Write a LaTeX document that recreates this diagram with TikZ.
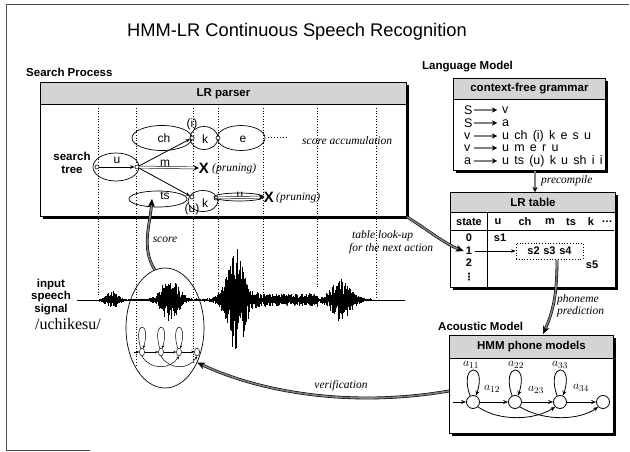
\documentclass[tikz,border=0pt]{standalone}
\usepackage{fontspec}
\setmainfont{Liberation Serif}
\setsansfont{Liberation Sans}
\newfontfamily\djv{DejaVu Sans}
\newfontfamily\gramf[WordSpace=1.5]{Liberation Sans}
\usetikzlibrary{arrows.meta,shapes.geometric,shadows,calc}
\tikzset{
  lbl/.style={font=\sffamily\bfseries\fontsize{11.5}{13}\selectfont, inner sep=0pt},
  ttl/.style={font=\sffamily\fontsize{18.3}{20}\selectfont, inner sep=0pt},
  ann/.style={font=\itshape\fontsize{11.5}{13}\selectfont, inner sep=0pt},
  tree/.style={font=\sffamily\fontsize{12}{13}\selectfont, inner sep=0pt},
  gram/.style={font=\gramf\fontsize{12.5}{13}\selectfont, inner sep=0pt, anchor=west},
  cell/.style={font=\sffamily\bfseries\fontsize{11}{12}\selectfont, inner sep=0pt},
  body/.style={draw, line width=0.9pt, fill=white, anchor=north west, inner sep=0pt,
     drop shadow={shadow xshift=2.5pt, shadow yshift=-2.5pt, opacity=1, fill=black}},
  head/.style={draw, line width=0.9pt, fill=black!17, anchor=north west, inner sep=0pt,
     font=\sffamily\bfseries\fontsize{11.5}{13}\selectfont},
  vdot/.style={dotted, line width=0.7pt},
  ell/.style={draw, ellipse, line width=0.7pt, inner sep=0pt},
  st/.style={draw, circle, minimum size=4pt, inner sep=0pt, line width=0.6pt, fill=white},
  thinarr/.style={line width=0.8pt, -{Stealth[length=4.5pt,width=3.5pt]}},
  hollow/.style={draw, line width=0.5pt, double=white, double distance=1.6pt, -{Stealth[length=5pt,width=5pt]}},
  bigarr/.style={draw=black, line width=0.6pt, double=black!50, double distance=1.6pt, -{Stealth[length=8pt,width=7pt]}},
  smallarr/.style={draw=black, line width=0.4pt, double=black!50, double distance=1.4pt, -{Stealth[length=5pt,width=5pt]}},
  wave/.style={line width=0.5pt},
  hst/.style={draw, circle, minimum size=13pt, inner sep=0pt, line width=0.8pt},
  mst/.style={draw, ellipse, minimum width=5pt, minimum height=8pt, inner sep=0pt, line width=0.5pt},
  harr/.style={line width=0.8pt, -{Stealth[length=5pt,width=4pt]}},
  marr/.style={line width=0.5pt, -{Stealth[length=3pt,width=2.5pt]}},
  alab/.style={font=\fontsize{12.5}{12.5}\selectfont, inner sep=0pt},
  declare function={gs(\xx,\cc,\ww)=exp(max(-9,-((\xx-\cc)/\ww)^2));},
}
\begin{document}
\begin{tikzpicture}[x=1pt,y=-1pt]
\useasboundingbox (0,0) rectangle (630,452);
% frame
\draw[line width=0.5pt, black!70] (629,4) -- (6,4) -- (6,450) -- (90,450);

% titles
\node[ttl] (title) at (297,32) {HMM-LR Continuous Speech Recognition};
\node[lbl, anchor=west] (sproc) at (26,72) {Search Process};
\node[lbl, anchor=west] (lmod) at (422,67) {Language Model};
\node[lbl, anchor=west] (amod) at (438,326) {Acoustic Model};

% ---------- LR parser box
\node[body, minimum width=366, minimum height=134] (lrp) at (40,82) {};
\node[head, minimum width=366, minimum height=22] (lrph) at (40,82) {LR parser};

% dotted time lines
\foreach \xa/\ya in {98/297,136/367,193/363,218/297,263/297,317/288,376/302}
  \draw[vdot] (\xa,108) -- (\xa,\ya);

% search tree
\node[lbl, align=center, font=\sffamily\bfseries\fontsize{11.5}{12.5}\selectfont] (stree) at (72,163) {search\\tree};
\node[ell, minimum width=46, minimum height=28] (ue) at (116,167) {};
\node[st] (uL) at (97,167) {};
\node[st] (uR) at (137,167) {};
\node[tree] (ulab) at (117,160) {u};
\draw[thinarr] (uL) -- (uR);

\node[ell, minimum width=60, minimum height=25] (che) at (162,138) {};
\node[tree] (chl) at (164,138) {ch};
\node[ell, minimum width=28, minimum height=23] (kte) at (204,138) {};
\node[tree] (ktl) at (205,139) {k};
\node[ell, minimum width=48, minimum height=25] (ee) at (241,138) {};
\node[tree] (eel) at (243,139) {e};
\node[st] (kL) at (192,138) {};
\node[st] (kR) at (218,138) {};
\node[tree] (il) at (192,124) {(i)};
\draw[dotted, line width=0.9pt] ($(ee.east)+(3,-1)$) -- ++(20,0);
\node[ann, anchor=west] (sacc) at (302,141) {score accumulation};

\node[font=\sffamily\bfseries\fontsize{15}{15}\selectfont, inner sep=0pt] (x1) at (204,168) {X};
\node[ann, anchor=west] (pr1) at (212,169) {(pruning)};
\node[tree] (ml) at (165,163) {m};

\node[ell, minimum width=58, minimum height=16] (tse) at (158,199) {};
\node[tree] (tsl) at (165,196) {ts};
\node[ell, minimum width=30, minimum height=21] (kbe) at (203,201) {};
\node[tree] (kbl) at (205,203) {k};
\node[st] (kbL) at (192,197) {};
\node[st] (kbR) at (216,198) {};
\node[tree] (ul2) at (192,209) {(u)};
\node[ell, minimum width=50, minimum height=8] (ube) at (239,197) {};
\node[tree] (ubl) at (240,195) {u};
\node[font=\sffamily\bfseries\fontsize{15}{15}\selectfont, inner sep=0pt] (x2) at (269,197) {X};
\node[ann, anchor=west] (pr2) at (276,198) {(pruning)};

\draw[thinarr] (uR) -- (kL);
\draw[thinarr] (uR) -- (kbL);
\draw[hollow] (uR) -- (x1.west);
\draw[hollow] (kbR) -- (x2.west);

% ---------- waveform
\node[lbl, align=center, font=\sffamily\bfseries\fontsize{11.5}{12.8}\selectfont] (insig) at (51,297) {input\\speech\\signal};
\node[font=\fontsize{16}{16}\selectfont, inner sep=0pt] (uchi) at (68,324) {/uchikesu/};
\coordinate (wstart) at (77,300);
\coordinate (wend) at (405,300);
\draw[line width=0.6pt] (wstart) -- (wend);
\pgfmathsetseed{11}
\foreach \x in {99,99.6,...,372} {
  \pgfmathsetmacro\env{1.5 + 9*gs(\x,112,7) + 21*gs(\x,170,11) + 50*gs(\x,236,12) + 5*and(\x>255,\x<318) + 20*gs(\x,341,13)}
  \pgfmathsetmacro\up{\env*(0.25+0.75*rnd)}
  \pgfmathsetmacro\dn{\env*(0.25+0.75*rnd)}
  \draw[wave] (\x,300-\up) -- (\x,300+\dn);
}

% ellipse with mini HMM
\node[ell, minimum width=78, minimum height=120] (hmmell) at (165,328) {};
\node[mst] (m1) at (142,352) {};
\node[mst] (m2) at (161,352) {};
\node[mst] (m3) at (179,352) {};
\node[mst] (m4) at (197,352) {};
\coordinate (min) at (134,352);
\draw[marr] (min) -- (m1);
\draw[marr] (m1) -- (m2);
\draw[marr] (m2) -- (m3);
\draw[marr] (m3) -- (m4);
\foreach \m in {m1,m2,m3}
  \draw[marr] (\m.110) .. controls +(-8,-28) and +(8,-28) .. (\m.70);
\draw[marr] (m1.south) .. controls (150,370) and (170,370) .. (m3.south);
\draw[marr] (m2.south) .. controls (169,370) and (189,370) .. (m4.south);

% score arrow
\coordinate (stip) at (152,199);
\draw[bigarr] (hmmell.100) .. controls (141,248) and (150,225) .. (stip);
\node[ann] (scl) at (165,240) {score};

% ---------- grammar box
\node[body, minimum width=152, minimum height=92] (gb) at (453,78) {};
\node[head, minimum width=152, minimum height=21] (gbh) at (453,78) {context-free grammar};
\foreach \yy/\l/\r [count=\i] in {110/S/v, 123/S/a, 136/v/u ch (i) k e s u, 148/v/u m e r u, 161/a/u ts (u) k u sh i i} {
  \node[gram] (gl\i) at (464,\yy) {\l};
  \node[gram] (gr\i) at (502,\yy) {\r};
  \coordinate (ga\i) at (474,\yy);
  \draw[smallarr] (ga\i) -- ($(gr\i.west)+(-5,0)$);
}

% precompile
\node[body, minimum width=165, minimum height=95] (lrt) at (450,192) {};
\node[head, minimum width=165, minimum height=20] (lrth) at (450,192) {LR table};
\draw[smallarr] (gb.south -| 535,0) -- (lrth.north -| 535,0);
\node[ann, anchor=west] (prec) at (541,181) {precompile};

% LR table contents
\draw[line width=0.8pt] (487,212) -- (487,287);
\draw[line width=0.8pt] (451,230) -- (614,230);
\node[cell] (cstate) at (469,222) {state};
\foreach \t/\xx [count=\i] in {u/498, ch/525, m/550, ts/571, k/591}
  \node[cell] (ch\i) at (\xx,222) {\t};
\node[cell] (chd) at (607,222) {\dots};
\node[cell] (r0) at (469,238) {0};
\node[cell] (r1) at (469,251) {1};
\node[cell] (r2) at (469,263) {2};
\node[cell, font=\djv\bfseries\fontsize{10}{10}\selectfont] (r3) at (469,277) {⋮};
\node[cell] (s1) at (500,238) {s1};
\node[cell, draw, dotted, line width=0.8pt, minimum width=67, minimum height=16] (sbox) at (549.5,251) {s2\,\,s3\,\,s4};
\node[cell] (s5) at (592,265) {s5};
\coordinate (r1e) at ($(r1.east)+(3,0)$);
\draw[thinarr, line width=0.6pt] (r1e) -- (sbox.west);

% table look-up
\coordinate (tl) at ($(r1.west)+(-2,0)$);
\draw[bigarr] (lrp.south east) .. controls (428,230) and (445,244) .. (tl);
\node[ann, anchor=west] (tlab1) at (352,236) {table look-up};
\node[ann, anchor=west] (tlab2) at (349,249) {for the next action};

% ---------- HMM box
\node[body, minimum width=164, minimum height=98] (hb) at (449,335) {};
\node[head, minimum width=164, minimum height=23] (hbh) at (449,335) {HMM phone models};
\coordinate (pstart) at (557,260);
\coordinate (pend) at (543,334);
\draw[bigarr] (pstart) .. controls (557,295) and (553,312) .. (pend);
\node[ann, anchor=west] (ph1) at (557,300) {phoneme};
\node[ann, anchor=west] (ph2) at (557,312) {prediction};

\node[hst] (h1) at (473,402) {};
\node[hst] (h2) at (515,402) {};
\node[hst] (h3) at (560,402) {};
\node[hst] (h4) at (603,402) {};
\coordinate (hin) at (453,402);
\draw[harr] (hin) -- (h1);
\draw[harr] (h1) -- (h2);
\draw[harr] (h2) -- (h3);
\draw[harr] (h3) -- (h4);
\foreach \h in {h1,h2,h3}
  \draw[harr] (\h.115) .. controls +(-12,-34) and +(12,-34) .. (\h.65);
\draw[harr] (h1.south east) .. controls (500,422) and (535,420) .. (h3.south west);
\draw[harr] (h2.south east) .. controls (545,422) and (580,420) .. (h4.south west);
\node[alab] (a11) at (471,365) {$a_{11}$};
\node[alab] (a22) at (516,365) {$a_{22}$};
\node[alab] (a33) at (560,365) {$a_{33}$};
\node[alab] (a12) at (492,389) {$a_{12}$};
\node[alab] (a23) at (536,390) {$a_{23}$};
\node[alab] (a34) at (581,388) {$a_{34}$};

% verification
\coordinate (vst) at (449,391);
\draw[bigarr] (vst) .. controls (350,408) and (260,392) .. (hmmell.-47);
\node[ann] (verif) at (341,386) {verification};
\end{tikzpicture}
\end{document}
